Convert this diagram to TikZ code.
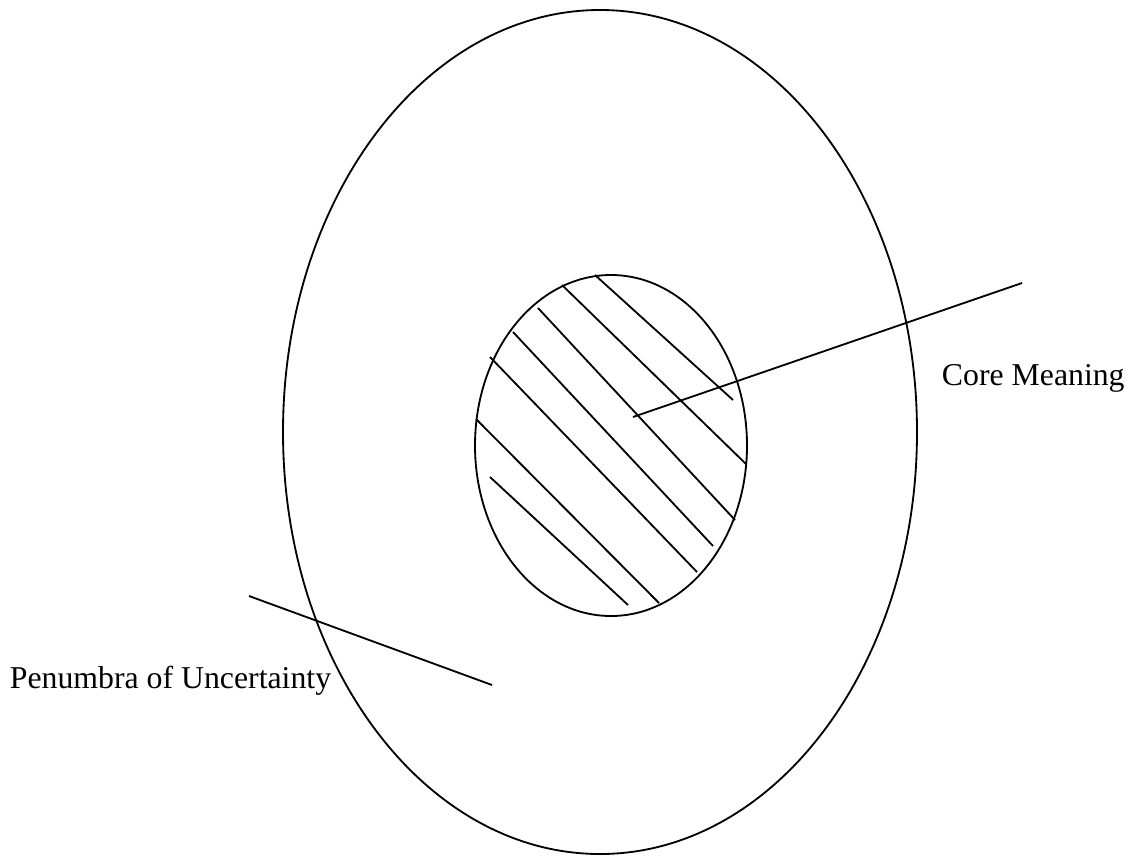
\documentclass[tikz,border=0pt]{standalone}
\usepackage{fontspec}
\setmainfont{Liberation Serif}
\begin{document}
\begin{tikzpicture}[x=0.025cm, y=-0.025cm, line width=1.3pt,
    label text/.style={anchor=base west, inner sep=0pt, font=\fontsize{22.6}{27}\selectfont}]
\useasboundingbox (0,0) rectangle (1128,856);

    % Outer region and core
    \draw (600,432) ellipse [x radius=317, y radius=422];
    \draw (611,445.5) ellipse [x radius=136, y radius=170.5];

    % Hatching of the core
    \foreach \xa/\ya/\xb/\yb in {595/275/733/400, 562/285/746/464, 538/308/735/520,
        513/332/713/546, 490/357/697/572, 476/419/659/603, 490/477/628/605}
        \draw (\xa,\ya) -- (\xb,\yb);

    % Labels
    \node[label text] (core) at (941,385) {Core Meaning};
    \node[label text] (penumbra) at (9,688) {Penumbra of Uncertainty};

    % Leader lines
    \coordinate (coreIn) at (633,417);
    \coordinate (coreOut) at (1022,283);
    \coordinate (penIn) at (492,685);
    \coordinate (penOut) at (249,596);
    \draw (coreIn) -- (coreOut);
    \draw (penIn) -- (penOut);

\end{tikzpicture}
\end{document}
